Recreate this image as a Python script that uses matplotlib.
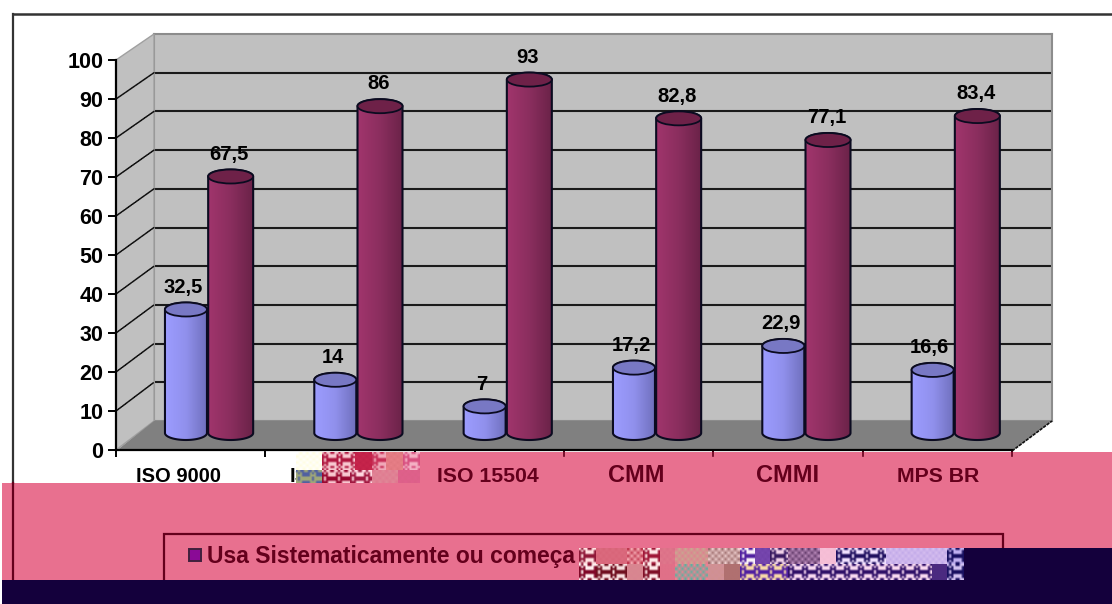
import matplotlib
matplotlib.use('Agg')
import matplotlib.pyplot as plt
import numpy as np
from matplotlib.patches import ConnectionPatch, Ellipse, PathPatch, Polygon, Rectangle
from matplotlib.path import Path

categories = ['ISO 9000', 'IS', 'ISO 15504', 'CMM', 'CMMI', 'MPS BR']
first_series = [32.5, 14, 7, 17.2, 22.9, 16.6]
second_series = [67.5, 86, 93, 82.8, 77.1, 83.4]
first_labels = ['32,5', '14', '7', '17,2', '22,9', '16,6']
second_labels = ['67,5', '86', '93', '82,8', '77,1', '83,4']
y_ticks = [0, 10, 20, 30, 40, 50, 60, 70, 80, 90, 100]
legend_text = 'Usa Sistematicamente ou começa'

W, H = 1112, 604
PINK = '#E8708F'
NAVY = '#14003C'
DARK = '#64001C'

plt.rcParams['font.family'] = ['Liberation Sans', 'DejaVu Sans']

fig = plt.figure(figsize=(W / 100, H / 100), dpi=100, facecolor='white')


def box(left, top, right, bottom, z):
    # axes from picture pixels
    ax = fig.add_axes([left / W, 1 - bottom / H, (right - left) / W, (bottom - top) / H], zorder=z)
    ax.set_xlim(0, 6)
    ax.set_ylim(0, 100)
    return ax


def pixel_axes(z):
    ax = fig.add_axes([0, 0, 1, 1], zorder=z)
    ax.set_xlim(0, W)
    ax.set_ylim(H, 0)
    ax.axis('off')
    ax.patch.set_alpha(0)
    return ax


# back wall
wall = box(154, 34, 1052, 421, 1)
wall.set_facecolor('#C0C0C0')
wall.set_xticks([])
wall.set_yticks(y_ticks[1:-1])
wall.tick_params(left=False, labelleft=False)
wall.grid(True, axis='y', color='#1a1a1a', lw=1.5)
for s in wall.spines.values():
    s.set_color('#8c8c8c')
    s.set_linewidth(1.5)

# side wall and floor
depth = pixel_axes(2)
depth.add_patch(Polygon([(116, 450), (154, 421), (154, 34), (116, 60)], fc='#C0C0C0', ec='#a0a0a0', lw=1))
depth.add_patch(Polygon([(116, 451), (154, 421), (1052, 421), (1012, 451)], fc='#808080', ec='none'))
depth.plot([1012, 1052], [451, 421], color='#111111', lw=1.2, ls=(0, (2, 0.6)))

# front axis
front = box(116, 60, 1012, 450, 3)
front.patch.set_alpha(0)
front.spines['top'].set_visible(False)
front.spines['right'].set_visible(False)
front.spines['left'].set_linewidth(1.6)
front.spines['bottom'].set_linewidth(1.6)
front.set_yticks(y_ticks)
front.set_xticks(range(7))
front.tick_params(axis='y', length=6, width=1.4, labelsize=15.5, pad=3)
front.tick_params(axis='x', length=5, width=1.4, labelbottom=False)
for lab in front.get_yticklabels():
    lab.set_fontweight('bold')

for v in y_ticks[1:-1]:
    fig.add_artist(ConnectionPatch((0, v), (0, v), coordsA=front.transData, coordsB=wall.transData,
                                   color='#111111', lw=1.1, ls=(0, (2, 0.6)), zorder=2.5))

# cylinders
bars = box(133, 53, 1029, 433, 4)
bars.patch.set_alpha(0)
bars.axis('off')

px_x = 149.33
ell_h = 14 / 3.8


def cylinder(ax, x, width, value, cols, top_col):
    t = np.linspace(0, np.pi, 40)
    rx, ry = width / 2, ell_h / 2
    top = np.column_stack([x + rx * np.cos(t), value + ry * np.sin(t)])
    low = np.column_stack([x - rx * np.cos(t), -ry * np.sin(t)])
    path = Path(np.vstack([top, low, top[:1]]), closed=True)
    grad = np.linspace(0, 1, 32)[None, :]
    cmap = matplotlib.colors.LinearSegmentedColormap.from_list('c', cols)
    im = ax.imshow(grad, extent=[x - rx, x + rx, -ry, value + ry], aspect='auto', cmap=cmap, zorder=2)
    edge = PathPatch(path, fc='none', ec='#0b0b20', lw=1.5, clip_on=False, zorder=3)
    ax.add_patch(edge)
    im.set_clip_box(fig.bbox)
    im.set_clip_path(edge)
    ax.add_patch(Ellipse((x, value), width, ell_h, fc=top_col, ec='#0b0b20', lw=1.3, clip_on=False, zorder=4))


blue_w, red_w = 42 / px_x, 45 / px_x
blue_off = -21.7 / px_x
red_off = 23 / px_x
for i in range(len(categories)):
    cylinder(bars, i + 0.5 + blue_off, blue_w, first_series[i], ['#9C9CFF', '#9090EC', '#6F6FBC'], '#7878C4')
    cylinder(bars, i + 0.5 + red_off, red_w, second_series[i], ['#A0356C', '#8A2E5E', '#6A2248'], '#6E2148')
    bars.annotate(first_labels[i], (i + 0.5 + blue_off, first_series[i]), xytext=(-2, 16),
                  textcoords='offset points', ha='center', va='center', fontsize=14.5, weight='bold',
                  color='black', annotation_clip=False, zorder=5)
    bars.annotate(second_labels[i], (i + 0.5 + red_off, second_series[i]), xytext=(-1, 16),
                  textcoords='offset points', ha='center', va='center', fontsize=14.5, weight='bold',
                  color='black', annotation_clip=False, zorder=5)
bars.set_xlim(0, 6)
bars.set_ylim(0, 100)

# frame and broken lower part of the picture
junk = pixel_axes(5)
junk.plot([13, W], [14, 14], color='#333333', lw=1.8)
junk.plot([13, 13], [14, 483], color='#333333', lw=1.6)
junk.add_patch(Rectangle((2, 483), W, 97, fc=PINK, ec='none'))
junk.add_patch(Rectangle((420, 452), W, 31, fc=PINK, ec='none'))
junk.plot([13, 13], [483, 580], color=DARK, lw=1.6)
for k in [3, 4, 5, 6]:
    junk.plot([116 + px_x * k] * 2, [452, 456], color=DARK, lw=1.2)

label_x = {'ISO 9000': 179, 'ISO 15504': 488, 'CMM': 636, 'CMMI': 788, 'MPS BR': 938}
label_size = {'ISO 9000': 14.5, 'ISO 15504': 15.3, 'CMM': 17, 'CMMI': 17, 'MPS BR': 15.3}
for name in categories:
    if name == 'IS':
        junk.text(290, 476, name, ha='left', va='center', fontsize=14.5, weight='bold', color='black')
    else:
        junk.text(label_x[name], 476, name, ha='center', va='center', fontsize=label_size[name], weight='bold',
                  color='black' if name == 'ISO 9000' else DARK)
junk.add_patch(Rectangle((2, 483), 300, 5, fc=PINK, ec='none'))

junk.add_patch(Rectangle((164, 534), 839, 60, fc='none', ec=DARK, lw=1.6))
junk.add_patch(Rectangle((189, 549), 12, 12, fc='#8A0A96', ec='#40203C', lw=1.4))
junk.text(207, 556, legend_text, ha='left', va='center', fontsize=16.5, weight='bold', color=DARK)


def noise(ax, x0, x1, y0, y1, c1, c2, kind=0):
    step = 3 if kind == 0 else 2
    nx = max(1, int((x1 - x0) / step))
    ny = max(1, int((y1 - y0) / step))
    j, i = np.indices((ny, nx))
    if kind == 0:
        mask = (i + j) % 2
    else:
        mask = ((3 * i * i + 5 * j * j + 7 * i * j + i) % 7 < 3).astype(int)
    img = np.where(mask[..., None] == 1, matplotlib.colors.to_rgb(c1), matplotlib.colors.to_rgb(c2))
    ax.imshow(img, extent=[x0, x1, y1, y0], aspect='auto', interpolation='bilinear', zorder=6)


# noise blocks: left, right, top, bottom, colour a, colour b, kind
for b in [
    (296, 322, 452, 470, '#FFFDE0', '#FFFFFF', 0),
    (322, 355, 452, 470, '#F8C8D0', '#B01840', 1),
    (355, 372, 452, 470, '#C8264C', '#C02048', 0),
    (372, 386, 452, 470, '#F0A8B8', '#C83058', 1),
    (386, 403, 452, 470, '#E88088', '#E07880', 0),
    (403, 420, 452, 470, '#F4B0C4', '#D85080', 1),
    (296, 322, 470, 483, '#5060A0', '#A0A878', 1),
    (322, 350, 470, 483, '#F8C8D0', '#980830', 1),
    (350, 372, 470, 483, '#FFD8E0', '#A01840', 1),
    (372, 398, 470, 483, '#E08898', '#E07A90', 0),
    (398, 420, 470, 483, '#E0608C', '#DC6088', 0),
    (579, 596, 548, 564, '#FFE0E0', '#901838', 1),
    (596, 627, 548, 564, '#DC6C80', '#D86478', 0),
    (627, 643, 548, 564, '#F8B0B8', '#C03850', 0),
    (643, 660, 548, 564, '#FFE8E8', '#A01838', 1),
    (660, 675, 548, 564, '#E0788C', '#DC7088', 0),
    (675, 708, 548, 564, '#C8A890', '#E08090', 0),
    (708, 740, 548, 564, '#F0D0D0', '#A07070', 0),
    (740, 755, 548, 564, '#F8F0F8', '#5020A0', 1),
    (755, 770, 548, 564, '#7848B0', '#7040A8', 0),
    (770, 788, 548, 564, '#F0D0E8', '#381860', 1),
    (788, 820, 548, 564, '#C090C0', '#603868', 0),
    (820, 836, 548, 564, '#F8C0D8', '#F4BCD4', 0),
    (836, 886, 548, 564, '#F0E0FF', '#201060', 1),
    (886, 947, 548, 564, '#D8C0F0', '#C0A8E8', 0),
    (947, 964, 548, 564, '#C0B0F0', '#181060', 1),
    (579, 596, 564, 580, '#FFF0F0', '#800828', 1),
    (596, 627, 564, 580, '#F8E0E0', '#701020', 1),
    (627, 643, 564, 580, '#D88890', '#D88490', 0),
    (643, 660, 564, 580, '#FFE8E8', '#801028', 1),
    (660, 675, 564, 580, '#E07088', '#E07088', 0),
    (675, 708, 564, 580, '#60B0A0', '#F08090', 0),
    (708, 724, 564, 580, '#D09090', '#D09098', 0),
    (724, 740, 564, 580, '#B07070', '#B07070', 0),
    (740, 788, 564, 580, '#F8D8A8', '#5020A0', 1),
    (788, 932, 564, 580, '#F8D8F0', '#301068', 1),
    (932, 947, 564, 580, '#4B2A80', '#4B2A80', 0),
    (947, 964, 564, 580, '#D0C0F0', '#181060', 1),
]:
    noise(junk, *b[:6], kind=b[6])

junk.add_patch(Rectangle((2, 580), W, 24, fc=NAVY, ec='none', zorder=7))
junk.add_patch(Rectangle((964, 548), W, 32, fc=NAVY, ec='none', zorder=7))
junk.add_patch(Rectangle((0, 483), 2, 121, fc='white', ec='none', zorder=7))
junk.set_xlim(0, W)
junk.set_ylim(H, 0)

fig.savefig('out.png', dpi=100)
